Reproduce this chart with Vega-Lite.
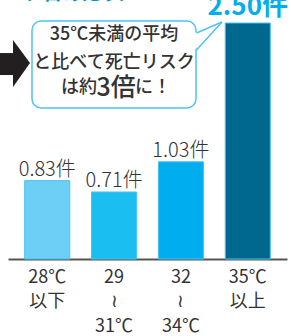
{
  "$schema": "https://vega.github.io/schema/vega-lite/v6.json",
  "autosize": {"type": "none"},
  "padding": {"left": 8, "top": 0, "right": 4, "bottom": 77},
  "width": 279,
  "height": 259,
  "background": "white",
  "config": {"view": {"stroke": null}, "font": "Noto Sans CJK JP"},
  "datasets": {
    "bars": [
      {"range": "28℃|以下", "value": 0.83, "label": "0.83件"},
      {"range": "29|≀|31℃", "value": 0.71, "label": "0.71件"},
      {"range": "32|≀|34℃", "value": 1.03, "label": "1.03件"},
      {"range": "35℃|以上", "value": 2.50, "label": "2.50件"}
    ],
    "box": [{"ax": 24, "ax2": 188, "ay": 2.521, "ay2": 1.600}],
    "tail": [
      {"ax": 186.5, "ay": 2.394, "ay2": 2.214},
      {"ax": 214, "ay": 2.511, "ay2": 2.511}
    ],
    "tailEdges": [
      {"seg": "a", "ax": 188.5, "ay": 2.394},
      {"seg": "a", "ax": 214, "ay": 2.511},
      {"seg": "b", "ax": 188.5, "ay": 2.214},
      {"seg": "b", "ax": 214, "ay": 2.511}
    ],
    "arrow": [
      {"part": "shaft", "ax": -8, "ay": 2.182, "ay2": 1.949},
      {"part": "shaft", "ax": 6, "ay": 2.182, "ay2": 1.949},
      {"part": "head", "ax": 5, "ay": 2.320, "ay2": 1.822},
      {"part": "head", "ax": 22, "ay": 2.077, "ay2": 2.077}
    ],
    "lines": [
      {"text": "35℃未満の平均", "ax": 106, "ay": 2.373},
      {"text": "と比べて死亡リスク", "ax": 106, "ay": 2.076}
    ],
    "line3a": [{"text": "は約", "ax": 89, "ay": 1.812}],
    "line3b": [{"text": "3倍", "ax": 108, "ay": 1.812}],
    "line3c": [{"text": "に！", "ax": 127, "ay": 1.812}],
    "top": [{"text": "（1日あたり）", "ax": 5, "ay": 2.744}]
  },
  "resolve": {"scale": {"x": "independent"}},
  "layer": [
    {
      "data": {"name": "bars"},
      "mark": {"type": "bar", "stroke": "#45C3F0", "strokeWidth": 1},
      "encoding": {
        "x": {
          "field": "range", "type": "nominal", "sort": null,
          "scale": {"type": "band", "paddingInner": 0.326, "paddingOuter": 0.25},
          "axis": {
            "title": null, "ticks": false, "tickSize": 0, "labelAngle": 0,
            "domainColor": "#555555", "domainWidth": 2,
            "labelFontSize": 18, "labelColor": "#333333", "labelLineHeight": 24.5,
            "labelPadding": 9, "labelExpr": "split(datum.value, '|')"
          }
        },
        "y": {"field": "value", "type": "quantitative", "scale": {"domain": [0, 2.744], "nice": false}, "axis": null},
        "color": {
          "field": "range", "type": "nominal", "legend": null,
          "scale": {"domain": ["28℃|以下", "29|≀|31℃", "32|≀|34℃", "35℃|以上"], "range": ["#6DCFF6", "#1ABEF0", "#00AEEF", "#00678F"]}
        }
      }
    },
    {
      "data": {"name": "bars"},
      "transform": [{"filter": "datum.value < 2"}],
      "mark": {"type": "text", "baseline": "alphabetic", "dy": -5, "fontSize": 20, "color": "#333333", "fontWeight": 300},
      "encoding": {
        "x": {"field": "range", "type": "nominal", "sort": ["28℃|以下", "29|≀|31℃", "32|≀|34℃", "35℃|以上"], "scale": {"type": "band", "domain": ["28℃|以下", "29|≀|31℃", "32|≀|34℃", "35℃|以上"], "paddingInner": 0.326, "paddingOuter": 0.25}, "axis": null},
        "y": {"field": "value", "type": "quantitative", "scale": {"domain": [0, 2.744], "nice": false}, "axis": null},
        "text": {"field": "label"}
      }
    },
    {
      "data": {"name": "bars"},
      "transform": [{"filter": "datum.value >= 2"}],
      "mark": {"type": "text", "baseline": "alphabetic", "dy": -8, "fontSize": 26, "fontWeight": "bold", "color": "#00AEEF"},
      "encoding": {
        "x": {"field": "range", "type": "nominal", "scale": {"type": "band", "domain": ["28℃|以下", "29|≀|31℃", "32|≀|34℃", "35℃|以上"], "paddingInner": 0.326, "paddingOuter": 0.25}, "axis": null},
        "y": {"field": "value", "type": "quantitative", "scale": {"domain": [0, 2.744], "nice": false}, "axis": null},
        "text": {"field": "label"}
      }
    },
    {
      "data": {"name": "arrow"},
      "mark": {"type": "area", "color": "#231F20", "clip": false},
      "encoding": {
        "x": {"field": "ax", "type": "quantitative", "scale": {"domain": [0, 279], "nice": false, "zero": false}, "axis": null},
        "y": {"field": "ay", "type": "quantitative", "scale": {"domain": [0, 2.744], "nice": false}, "axis": null},
        "y2": {"field": "ay2"},
        "detail": {"field": "part"}
      }
    },
    {
      "data": {"name": "box"},
      "mark": {"type": "rect", "fill": "white", "stroke": "#4EC4F0", "strokeWidth": 1.5, "cornerRadius": 9},
      "encoding": {
        "x": {"field": "ax", "type": "quantitative", "scale": {"domain": [0, 279], "nice": false, "zero": false}, "axis": null},
        "x2": {"field": "ax2"},
        "y": {"field": "ay", "type": "quantitative", "scale": {"domain": [0, 2.744], "nice": false}, "axis": null},
        "y2": {"field": "ay2"}
      }
    },
    {
      "data": {"name": "tail"},
      "mark": {"type": "area", "color": "white", "opacity": 1},
      "encoding": {
        "x": {"field": "ax", "type": "quantitative", "scale": {"domain": [0, 279], "nice": false, "zero": false}, "axis": null},
        "y": {"field": "ay", "type": "quantitative", "scale": {"domain": [0, 2.744], "nice": false}, "axis": null},
        "y2": {"field": "ay2"}
      }
    },
    {
      "data": {"name": "tailEdges"},
      "mark": {"type": "line", "color": "#4EC4F0", "strokeWidth": 1.5},
      "encoding": {
        "x": {"field": "ax", "type": "quantitative", "scale": {"domain": [0, 279], "nice": false, "zero": false}, "axis": null},
        "y": {"field": "ay", "type": "quantitative", "scale": {"domain": [0, 2.744], "nice": false}, "axis": null},
        "detail": {"field": "seg"}
      }
    },
    {
      "data": {"name": "lines"},
      "mark": {"type": "text", "fontSize": 18, "color": "#333333", "align": "center", "baseline": "middle", "fontWeight": 500},
      "encoding": {
        "x": {"field": "ax", "type": "quantitative", "scale": {"domain": [0, 279], "nice": false, "zero": false}, "axis": null},
        "y": {"field": "ay", "type": "quantitative", "scale": {"domain": [0, 2.744], "nice": false}, "axis": null},
        "text": {"field": "text"}
      }
    },
    {
      "data": {"name": "line3a"},
      "mark": {"type": "text", "fontSize": 18, "color": "#333333", "align": "right", "baseline": "middle", "fontWeight": 500},
      "encoding": {
        "x": {"field": "ax", "type": "quantitative", "scale": {"domain": [0, 279], "nice": false, "zero": false}, "axis": null},
        "y": {"field": "ay", "type": "quantitative", "scale": {"domain": [0, 2.744], "nice": false}, "axis": null},
        "text": {"field": "text"}
      }
    },
    {
      "data": {"name": "line3b"},
      "mark": {"type": "text", "fontSize": 25, "color": "#333333", "align": "center", "baseline": "middle", "fontWeight": 500},
      "encoding": {
        "x": {"field": "ax", "type": "quantitative", "scale": {"domain": [0, 279], "nice": false, "zero": false}, "axis": null},
        "y": {"field": "ay", "type": "quantitative", "scale": {"domain": [0, 2.744], "nice": false}, "axis": null},
        "text": {"field": "text"}
      }
    },
    {
      "data": {"name": "line3c"},
      "mark": {"type": "text", "fontSize": 18, "color": "#333333", "align": "left", "baseline": "middle", "fontWeight": 500},
      "encoding": {
        "x": {"field": "ax", "type": "quantitative", "scale": {"domain": [0, 279], "nice": false, "zero": false}, "axis": null},
        "y": {"field": "ay", "type": "quantitative", "scale": {"domain": [0, 2.744], "nice": false}, "axis": null},
        "text": {"field": "text"}
      }
    },
    {
      "data": {"name": "top"},
      "mark": {"type": "text", "fontSize": 19, "color": "#0095CC", "align": "left", "baseline": "alphabetic", "fontWeight": "bold"},
      "encoding": {
        "x": {"field": "ax", "type": "quantitative", "scale": {"domain": [0, 279], "nice": false, "zero": false}, "axis": null},
        "y": {"field": "ay", "type": "quantitative", "scale": {"domain": [0, 2.744], "nice": false}, "axis": null},
        "text": {"field": "text"}
      }
    }
  ]
}
